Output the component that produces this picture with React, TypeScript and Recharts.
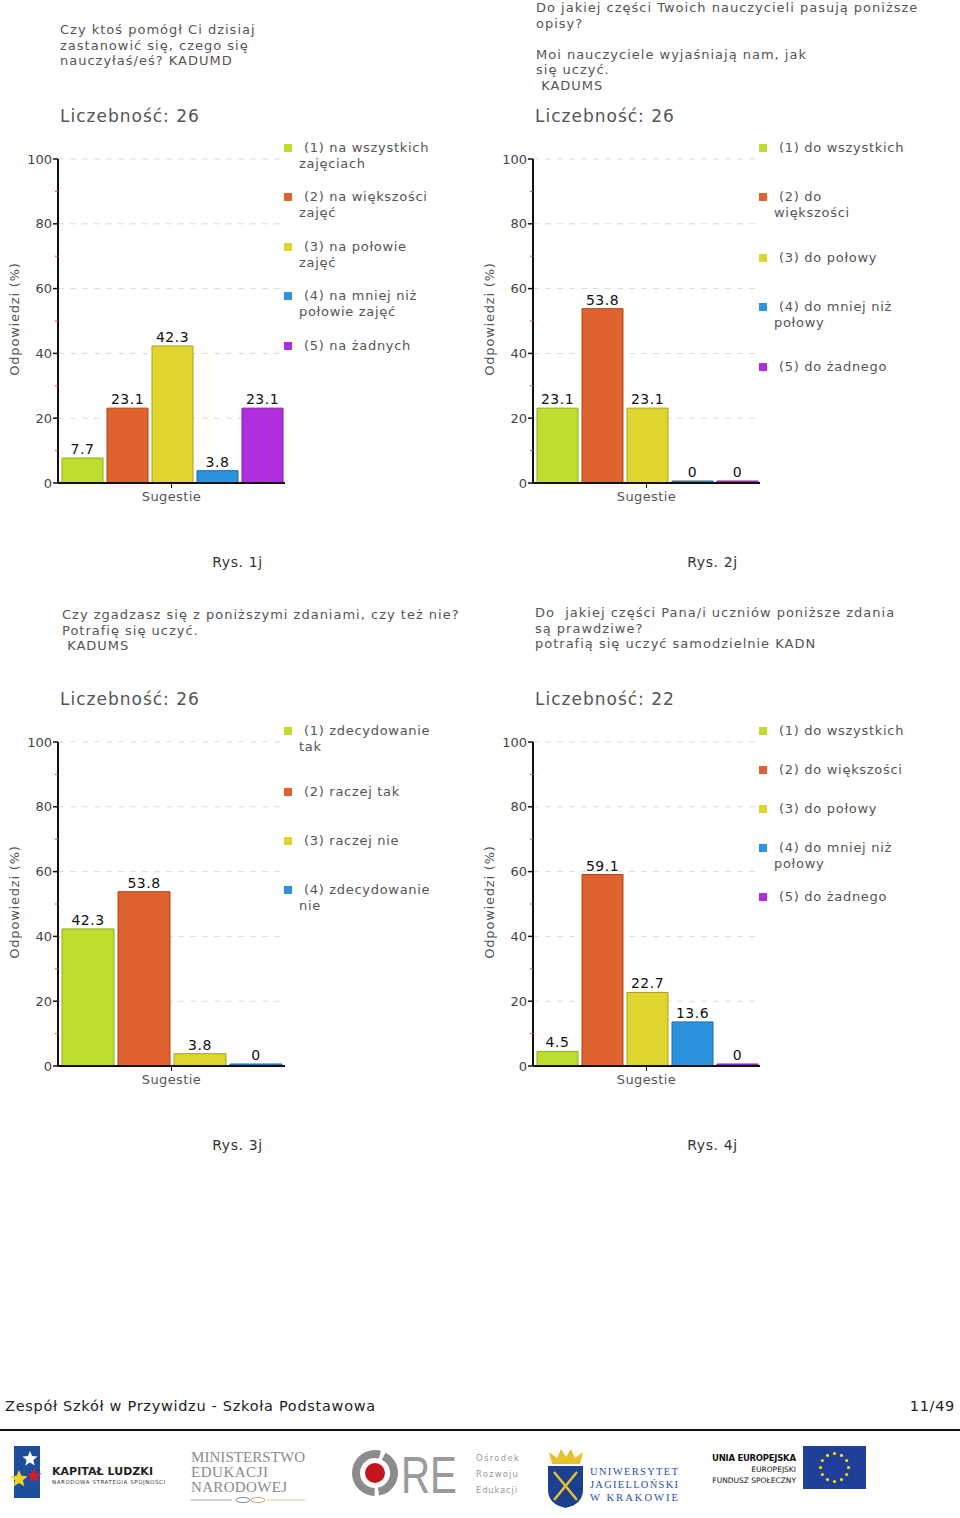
import React from 'react';
import { BarChart, Bar, XAxis, YAxis, CartesianGrid, Legend, LabelList } from 'recharts';

const FONT = '"DejaVu Sans", Verdana, sans-serif';

const CATEGORY = 'Sugestie';
const Y_TICKS = [0, 10, 20, 30, 40, 50, 60, 70, 80, 90, 100];
const GRID_VALUES = [20, 40, 60, 80, 100];

const COLORS = ['#bede2e', '#e0622e', '#e0d52e', '#2e93df', '#b12edf'];
const STROKES = ['#8eab1c', '#a8461b', '#aaa01c', '#1d67a8', '#7d1ca8'];

// Rys. 1j
const TITLE_1 = ['Czy ktoś pomógł Ci dzisiaj', 'zastanowić się, czego się', 'nauczyłaś/eś? KADUMD'];
const COUNT_1 = 26;
const LABELS_1 = ['(1) na wszystkich\nzajęciach', '(2) na większości\nzajęć', '(3) na połowie\nzajęć', '(4) na mniej niż\npołowie zajęć', '(5) na żadnych'];
const VALUES_1 = [7.7, 23.1, 42.3, 3.8, 23.1];

// Rys. 2j
const TITLE_2 = ['Do jakiej części Twoich nauczycieli pasują poniższe', 'opisy?', '', 'Moi nauczyciele wyjaśniają nam, jak', 'się uczyć.', ' KADUMS'];
const COUNT_2 = 26;
const LABELS_2 = ['(1) do wszystkich', '(2) do\nwiększości', '(3) do połowy', '(4) do mniej niż\npołowy', '(5) do żadnego'];
const VALUES_2 = [23.1, 53.8, 23.1, 0, 0];

// Rys. 3j
const TITLE_3 = ['Czy zgadzasz się z poniższymi zdaniami, czy też nie?', 'Potrafię się uczyć.', ' KADUMS'];
const COUNT_3 = 26;
const LABELS_3 = ['(1) zdecydowanie\ntak', '(2) raczej tak', '(3) raczej nie', '(4) zdecydowanie\nnie'];
const VALUES_3 = [42.3, 53.8, 3.8, 0];

// Rys. 4j
const TITLE_4 = ['Do  jakiej części Pana/i uczniów poniższe zdania', 'są prawdziwe?', 'potrafią się uczyć samodzielnie KADN'];
const COUNT_4 = 22;
const LABELS_4 = ['(1) do wszystkich', '(2) do większości', '(3) do połowy', '(4) do mniej niż\npołowy', '(5) do żadnego'];
const VALUES_4 = [4.5, 59.1, 22.7, 13.6, 0];

// panel placement (layout only)
const CHART_TOP = 140;

const YTick = (props: any) => {
  const { x, y, payload } = props;
  const v = payload.value;
  if (v % 20 !== 0) {
    return <line x1={x - 3} x2={x} y1={y} y2={y} stroke="#d05050" strokeWidth={1} />;
  }
  return (
    <g>
      <line x1={x - 5} x2={x} y1={y} y2={y} stroke="#111" strokeWidth={1.5} />
      <text x={x - 6} y={y} dy="0.36em" textAnchor="end" fontSize={13} fill="#444" fontFamily={FONT}>
        {v}
      </text>
    </g>
  );
};

const YLabel = (props: any) => {
  const { viewBox } = props;
  const cx = viewBox.x + 14;
  const cy = viewBox.y + viewBox.height / 2 - 2;
  return (
    <text x={cx} y={cy} transform={`rotate(-90, ${cx}, ${cy})`} textAnchor="middle" dy="0.36em" fontSize={13} fill="#555" fontFamily={FONT} letterSpacing={0.8}>
      Odpowiedzi (%)
    </text>
  );
};

const makeLegend = (labels: string[], tops: number[]) => () => (
  <div style={{ position: 'relative', width: 175, height: 240 }}>
    {labels.map((l, i) => (
      <div key={i} style={{ position: 'absolute', top: tops[i] - CHART_TOP - 8, left: 0, width: 175 }}>
        <div style={{ position: 'absolute', left: 6, top: 4, width: 8, height: 8, background: COLORS[i] }} />
        <div
          style={{
            position: 'absolute',
            left: 21,
            top: 0,
            whiteSpace: 'pre',
            textIndent: 5,
            lineHeight: '16px',
            fontSize: 13,
            letterSpacing: 0.7,
            color: '#555',
            fontFamily: FONT,
          }}
        >
          {l}
        </div>
      </div>
    ))}
  </div>
);

type PanelProps = {
  left: number;
  top: number;
  titleLeft: number;
  titleTop: number;
  title: string[];
  count: number;
  labels: string[];
  values: number[];
  legendTops: number[];
  caption: string;
};

const Panel = ({ left, top, titleLeft, titleTop, title, count, labels, values, legendTops, caption }: PanelProps) => {
  const row: Record<string, string | number> = { name: CATEGORY };
  values.forEach((v, i) => {
    row[`s${i}`] = v;
  });
  const data = [row];

  return (
    <div style={{ position: 'absolute', left, top, width: 475, height: 583 }}>
      <div
        style={{
          position: 'absolute',
          left: titleLeft,
          top: titleTop - 8,
          fontSize: 13,
          lineHeight: '15.6px',
          letterSpacing: 1,
          color: '#555',
          whiteSpace: 'pre',
          fontFamily: FONT,
        }}
      >
        {title.map((t, i) => (
          <div key={i} style={{ height: 15.6 }}>{t}</div>
        ))}
      </div>
      <div style={{ position: 'absolute', left: 60, top: 106, fontSize: 17, color: '#555', fontFamily: FONT, letterSpacing: 1 }}>
        Liczebność: {count}
      </div>
      <div style={{ position: 'absolute', left: 0, top: CHART_TOP }}>
        <BarChart width={460} height={373} data={data} margin={{ top: 19, right: 0, bottom: 0, left: 0 }} barCategoryGap={4} barGap={4}>
          <CartesianGrid vertical={false} horizontalValues={GRID_VALUES} stroke="#dcdcdc" strokeDasharray="6 6" />
          <XAxis
            dataKey="name"
            type="category"
            height={30}
            axisLine={{ stroke: '#111', strokeWidth: 2 }}
            tickLine={{ stroke: '#111' }}
            tickSize={5}
            tickMargin={4}
            tick={{ fontSize: 13, fill: '#555', fontFamily: FONT, letterSpacing: 0.4 }}
          />
          <YAxis
            type="number"
            domain={[0, 100]}
            ticks={Y_TICKS}
            interval={0}
            width={58}
            tickSize={0}
            tickMargin={0}
            tickLine={false}
            axisLine={{ stroke: '#111', strokeWidth: 2 }}
            tick={<YTick />}
            label={<YLabel />}
          />
          <Legend
            layout="vertical"
            align="right"
            verticalAlign="top"
            content={makeLegend(labels, legendTops)}
            wrapperStyle={{ left: 278, top: 0, width: 175, height: 240 }}
          />
          {values.map((_, i) => (
            <Bar
              key={i}
              dataKey={`s${i}`}
              fill={COLORS[i]}
              stroke={STROKES[i]}
              strokeWidth={1}
              minPointSize={2}
              isAnimationActive={false}
            >
              <LabelList dataKey={`s${i}`} position="top" offset={4} fontSize={14} fill="#111" fontFamily={FONT} letterSpacing={0.5} />
            </Bar>
          ))}
        </BarChart>
      </div>
      <div style={{ position: 'absolute', left: 0, width: 475, top: 554, textAlign: 'center', fontSize: 14, color: '#333', fontFamily: FONT, letterSpacing: 0.6 }}>
        {caption}
      </div>
    </div>
  );
};

const star = (cx: number, cy: number, r: number) => {
  const pts: string[] = [];
  for (let k = 0; k < 10; k++) {
    const rad = k % 2 === 0 ? r : r * 0.45;
    const a = -Math.PI / 2 + (k * Math.PI) / 5;
    pts.push(`${(cx + rad * Math.cos(a)).toFixed(1)},${(cy + rad * Math.sin(a)).toFixed(1)}`);
  }
  return pts.join(' ');
};

const Footer = () => (
  <>
    <div style={{ position: 'absolute', left: 5, top: 1398, fontSize: 14.5, color: '#222', fontFamily: FONT, letterSpacing: 0.7 }}>
      Zespół Szkół w Przywidzu - Szkoła Podstawowa
    </div>
    <div style={{ position: 'absolute', right: 5, top: 1398, fontSize: 14.5, color: '#222', fontFamily: FONT, letterSpacing: 0.7 }}>11/49</div>
    <div style={{ position: 'absolute', left: 0, top: 1429, width: 960, height: 2, background: '#111' }} />
    <svg style={{ position: 'absolute', left: 0, top: 0 }} width={960} height={1518} viewBox="0 0 960 1518">
      {/* Kapitał Ludzki */}
      <rect x={14} y={1446} width={26} height={52} fill="#1d4f9c" />
      <polygon points={star(30, 1459, 8)} fill="#fff" />
      <polygon points={star(34, 1476, 8)} fill="#d0202e" />
      <polygon points={star(19, 1479, 9)} fill="#f3d320" />
      <text x={52} y={1475} fontSize={11} fontWeight="bold" fill="#222" fontFamily={FONT} textLength={101}>KAPITAŁ LUDZKI</text>
      <text x={52} y={1484} fontSize={5.5} fill="#333" fontFamily={FONT} textLength={113}>NARODOWA STRATEGIA SPÓJNOŚCI</text>
      {/* Ministerstwo */}
      <text x={191} y={1462} fontSize={15} fill="#8a8a8a" fontFamily='"Liberation Serif", serif' textLength={114}>MINISTERSTWO</text>
      <text x={191} y={1477} fontSize={15} fill="#8a8a8a" fontFamily='"Liberation Serif", serif' textLength={77}>EDUKACJI</text>
      <text x={191} y={1492} fontSize={15} fill="#8a8a8a" fontFamily='"Liberation Serif", serif' textLength={96}>NARODOWEJ</text>
      <line x1={191} x2={232} y1={1500} y2={1500} stroke="#9aa3b5" strokeWidth={1} />
      <ellipse cx={243} cy={1500} rx={7} ry={2.5} fill="none" stroke="#7a8aa5" strokeWidth={1} />
      <ellipse cx={258} cy={1500} rx={7} ry={2.5} fill="none" stroke="#e0a070" strokeWidth={1} />
      <line x1={267} x2={305} y1={1500} y2={1500} stroke="#e8c8a8" strokeWidth={1} />
      {/* ORE */}
      <circle cx={375} cy={1473} r={19} fill="none" stroke="#8c8c8c" strokeWidth={8} strokeDasharray="26 4 64 4 26 0" />
      <circle cx={375} cy={1473} r={10} fill="#c4161c" />
      <text x={401} y={1493} fontSize={52} fill="#9a9a9a" fontFamily='"Liberation Sans", sans-serif' textLength={56} lengthAdjust="spacingAndGlyphs">RE</text>
      <text x={476} y={1461} fontSize={8.5} fill="#9a9a9a" fontFamily={FONT} textLength={43}>Ośrodek</text>
      <text x={476} y={1477} fontSize={8.5} fill="#9a9a9a" fontFamily={FONT} textLength={42}>Rozwoju</text>
      <text x={476} y={1493} fontSize={8.5} fill="#9a9a9a" fontFamily={FONT} textLength={41}>Edukacji</text>
      {/* UJ */}
      <path d="M552,1464 L549,1452 L557,1458 L561,1449 L566,1457 L571,1449 L575,1458 L583,1452 L580,1464 Z" fill="#e5c22c" />
      <path d="M548,1466 H583 V1490 Q583,1504 565.5,1508 Q548,1504 548,1490 Z" fill="#1c3f8e" />
      <line x1={554} y1={1472} x2={577} y2={1500} stroke="#e5c22c" strokeWidth={2.5} />
      <line x1={577} y1={1472} x2={554} y2={1500} stroke="#e5c22c" strokeWidth={2.5} />
      <text x={590} y={1475} fontSize={10.5} fill="#2b4f9f" fontFamily='"Liberation Serif", serif' textLength={88}>UNIWERSYTET</text>
      <text x={590} y={1488} fontSize={10.5} fill="#2b4f9f" fontFamily='"Liberation Serif", serif' textLength={88}>JAGIELLOŃSKI</text>
      <text x={590} y={1501} fontSize={10.5} fill="#2b4f9f" fontFamily='"Liberation Serif", serif' textLength={88}>W KRAKOWIE</text>
      {/* EU */}
      <text x={712} y={1461} fontSize={8.5} fontWeight="bold" fill="#111" fontFamily={FONT} textLength={84}>UNIA EUROPEJSKA</text>
      <text x={796} y={1472} fontSize={7.5} fill="#111" fontFamily={FONT} textAnchor="end">EUROPEJSKI</text>
      <text x={796} y={1483} fontSize={7.5} fill="#111" fontFamily={FONT} textAnchor="end">FUNDUSZ SPOŁECZNY</text>
      <rect x={803} y={1446} width={63} height={43} fill="#1f3f99" />
      {Array.from({ length: 12 }).map((_, k) => {
        const a = (k * Math.PI) / 6;
        return <circle key={k} cx={834.5 + 14 * Math.cos(a)} cy={1467.5 + 14 * Math.sin(a)} r={1.6} fill="#ffdd00" />;
      })}
    </svg>
  </>
);

export default function App() {
  return (
    <div style={{ position: 'absolute', left: 0, top: 0, width: 960, height: 1518, background: '#fff', overflow: 'hidden', fontFamily: FONT }}>
      <Panel left={0} top={0} titleLeft={60} titleTop={30} title={TITLE_1} count={COUNT_1} labels={LABELS_1} values={VALUES_1} legendTops={[148, 197, 247, 296, 346]} caption="Rys. 1j" />
      <Panel left={475} top={0} titleLeft={61} titleTop={8} title={TITLE_2} count={COUNT_2} labels={LABELS_2} values={VALUES_2} legendTops={[148, 197, 258, 307, 367]} caption="Rys. 2j" />
      <Panel left={0} top={583} titleLeft={62} titleTop={32} title={TITLE_3} count={COUNT_3} labels={LABELS_3} values={VALUES_3} legendTops={[148, 209, 258, 307]} caption="Rys. 3j" />
      <Panel left={475} top={583} titleLeft={60} titleTop={30} title={TITLE_4} count={COUNT_4} labels={LABELS_4} values={VALUES_4} legendTops={[148, 187, 226, 265, 314]} caption="Rys. 4j" />
      <Footer />
    </div>
  );
}
